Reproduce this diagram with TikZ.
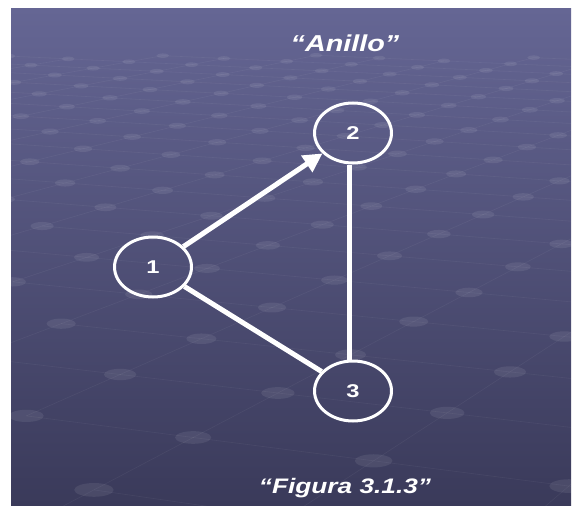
\documentclass[tikz,border=0pt]{standalone}
\usepackage{fontspec}
\setmainfont{Liberation Sans}
\usetikzlibrary{shapes.geometric,arrows.meta}

\definecolor{bgtop}{RGB}{101,102,148}
\definecolor{bgbot}{RGB}{58,58,90}

\tikzset{
  ringnode/.style={ellipse, draw=white, line width=3pt,
    minimum width=77pt, minimum height=60pt, inner sep=0pt, text=white},
  link/.style={draw=white, line width=5pt},
  caption/.style={text=white, anchor=base, inner sep=0pt},
  dotfill/.style={fill=white, fill opacity=0.08},
  gridline/.style={draw=white, draw opacity=0.05, line width=0.6pt}
}

% ground-plane lattice point (i,j) -> screen point \gX,\gY and depth \gZ
\newcommand\latticept[2]{%
  \pgfmathsetmacro\ga{#1*0.1}%
  \pgfmathsetmacro\gb{#2*0.1}%
  \pgfmathsetmacro\gZ{0.75-\ga*0.4226+\gb*0.9063}%
  \pgfmathsetmacro\gx{\ga*0.9063+\gb*0.4226}%
  \ifdim\gZ pt<0.8pt \def\gZ{0.8}\fi
  \pgfmathsetmacro\gX{300+2167*\gx/\gZ}%
  \pgfmathsetmacro\gY{-150+650/\gZ}%
}

\newcommand\labeltext[2]{\scalebox{1.28}[1]{\fontsize{#1}{#1}\selectfont\bfseries #2}}
\newcommand\titletext[2]{\scalebox{1.25}[1]{\fontsize{#1}{#1}\selectfont\bfseries\itshape #2}}

\begin{document}
\begin{tikzpicture}[x=1pt,y=-1pt]
  \useasboundingbox (0,0) rectangle (574,506);
  \fill[white] (0,0) rectangle (574,506);

  % slide background with a perspective dot lattice
  \begin{scope}
    \clip (11,8) rectangle (571,506);
    \shade[top color=bgtop, bottom color=bgbot] (11,8) rectangle (571,506);
    \foreach \i in {-24,...,10}{
      \foreach \j in {-4,...,30}{
        \latticept{\i}{\j}
        \let\pX\gX \let\pY\gY \let\pZ\gZ
        \ifdim\pX pt>-60pt \ifdim\pX pt<640pt \ifdim\pY pt>55pt \ifdim\pY pt<560pt
          \pgfmathtruncatemacro\ni{\i+1}
          \latticept{\ni}{\j}
          \draw[gridline] (\pX,\pY) -- (\gX,\gY);
          \pgfmathtruncatemacro\nj{\j+1}
          \latticept{\i}{\nj}
          \ifdim\gY pt>55pt \draw[gridline] (\pX,\pY) -- (\gX,\gY); \fi
          \pgfmathsetmacro\rx{20/\pZ}
          \pgfmathsetmacro\ry{7/\pZ}
          \fill[dotfill] (\pX,\pY) ellipse [x radius=\rx, y radius=\ry];
        \fi\fi\fi\fi
      }
    }
  \end{scope}

  % titles
  \node[caption] (title) at (345,52) {\titletext{23}{“Anillo”}};
  \node[caption] (fig) at (345,493) {\titletext{21}{“Figura 3.1.3”}};

  % ring of three nodes
  \node[ringnode] (n1) at (153,267) {\labeltext{18.5}{1}};
  \node[ringnode] (n2) at (353,133) {\labeltext{18.5}{2}};
  \node[ringnode] (n3) at (353,391) {\labeltext{18.5}{3}};

  \draw[link, -{Triangle[length=19pt,width=19pt]}] (n1) -- (n2);
  \draw[link] ([xshift=-4pt]n2.south) -- ([xshift=-4pt]n3.north);
  \draw[link] (n1) -- (n3);
\end{tikzpicture}
\end{document}
